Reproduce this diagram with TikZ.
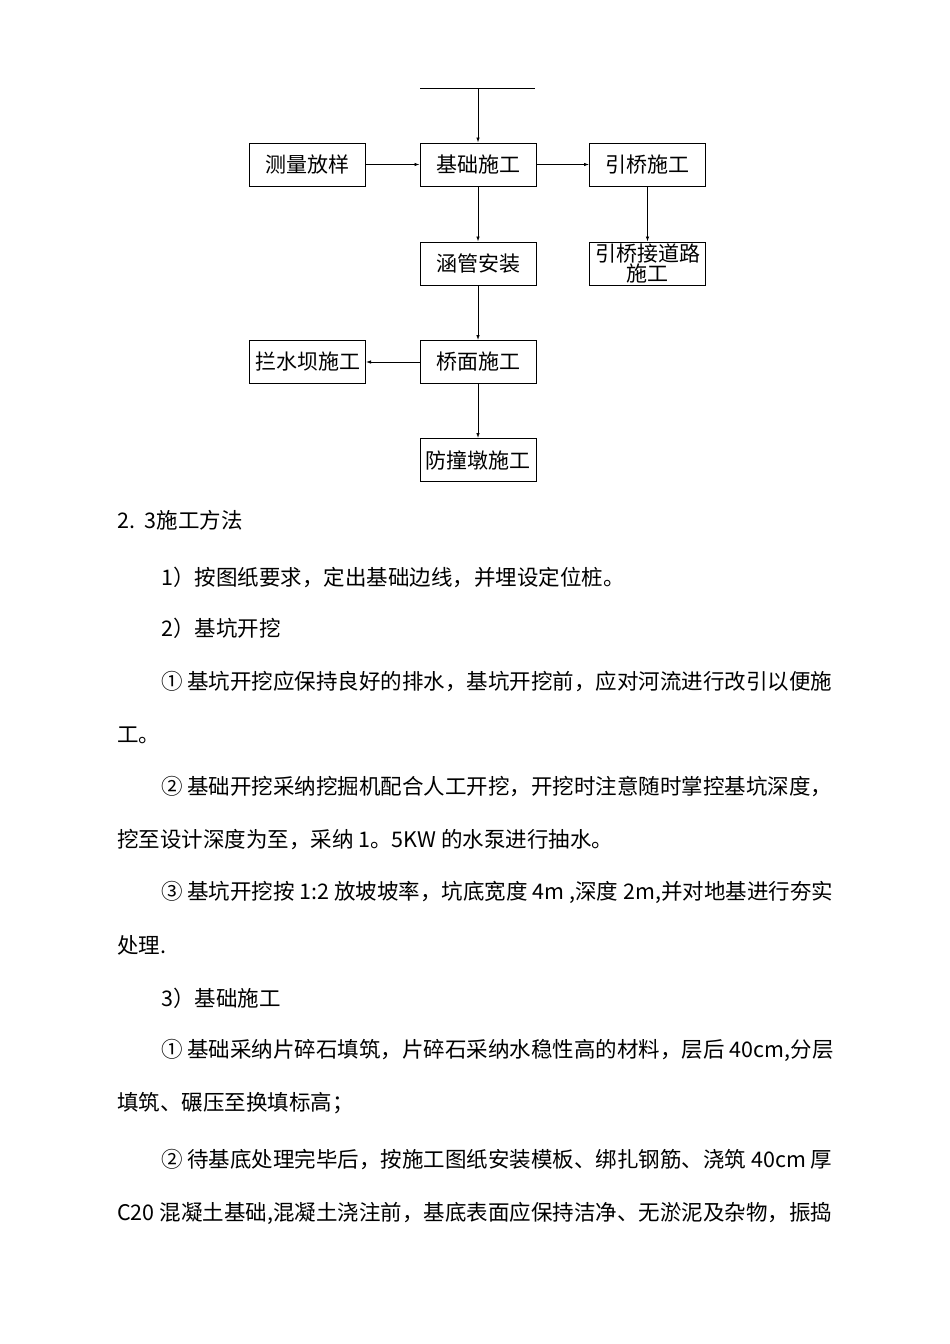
\documentclass[tikz,border=0pt]{standalone}
\usepackage{fontspec}
\setmainfont{Noto Sans CJK SC}
\usetikzlibrary{arrows.meta}
\begin{document}
\begin{tikzpicture}[x=1pt,y=-1pt,
  box/.style={draw,line width=1pt,minimum width=116pt,minimum height=43pt,inner sep=0pt,font=\fontsize{21}{22}\selectfont},
  arr/.style={line width=0.8pt,-{Latex[length=5pt,width=3.5pt]}},
  txt/.style={anchor=west,inner sep=0pt,font=\fontsize{21.5}{23}\selectfont}]
\useasboundingbox (0,0) rectangle (950,1344);
\coordinate (tl) at (420,88); \coordinate (tr) at (535,88); \coordinate (tm) at (478,88);
\draw[line width=1pt] (tl) -- (tr);
\node[box] (jc) at (478,164.5) {基础施工};
\node[box] (cl) at (307,164.5) {测量放样};
\node[box] (yq) at (647.5,164.5) {引桥施工};
\node[box] (hg) at (478,263.5) {涵管安装};
\node[box,align=center,font=\fontsize{21}{19}\selectfont] (yd) at (647.5,263.5) {引桥接道路\\施工};
\node[box] (qm) at (478,362) {桥面施工};
\node[box] (ls) at (307.5,362) {拦水坝施工};
\node[box] (fz) at (478,460) {防撞墩施工};
\draw[arr] (tm) -- (jc);
\draw[arr] (cl) -- (jc);
\draw[arr] (jc) -- (yq);
\draw[arr] (jc) -- (hg);
\draw[arr] (yq) -- (yd);
\draw[arr] (hg) -- (qm);
\draw[arr] (qm) -- (ls);
\draw[arr] (qm) -- (fz);
\node[txt] (l1) at (117,520) {2.\ \ \textit{3}施工方法};
\node[txt] (l2) at (161,577) {1）按图纸要求，定出基础边线，并埋设定位桩。};
\node[txt] (l3) at (161,628) {2）基坑开挖};
\node[txt] (l4) at (161,682) {① 基坑开挖应保持良好的排水，基坑开挖前，应对河流进行改引以便施};
\node[txt] (l5) at (117,735) {工。};
\node[txt] (l6) at (161,787) {② 基础开挖采纳挖掘机配合人工开挖，开挖时注意随时掌控基坑深度，};
\node[txt] (l7) at (117,840) {挖至设计深度为至，采纳 1。5KW 的水泵进行抽水。};
\node[txt] (l8) at (161,892) {③ 基坑开挖按 1:2 放坡坡率，坑底宽度 4m ,深度 2m,并对地基进行夯实};
\node[txt] (l9) at (117,945) {处理.};
\node[txt] (l10) at (161,998) {3）基础施工};
\node[txt] (l11) at (161,1050) {① 基础采纳片碎石填筑，片碎石采纳水稳性高的材料，层后 40cm,分层};
\node[txt] (l12) at (117,1103) {填筑、碾压至换填标高；};
\node[txt] (l13) at (161,1160) {② 待基底处理完毕后，按施工图纸安装模板、绑扎钢筋、浇筑 40cm 厚};
\node[txt] (l14) at (117,1213) {C20 混凝土基础,混凝土浇注前，基底表面应保持洁净、无淤泥及杂物，振捣};
\end{tikzpicture}
\end{document}
